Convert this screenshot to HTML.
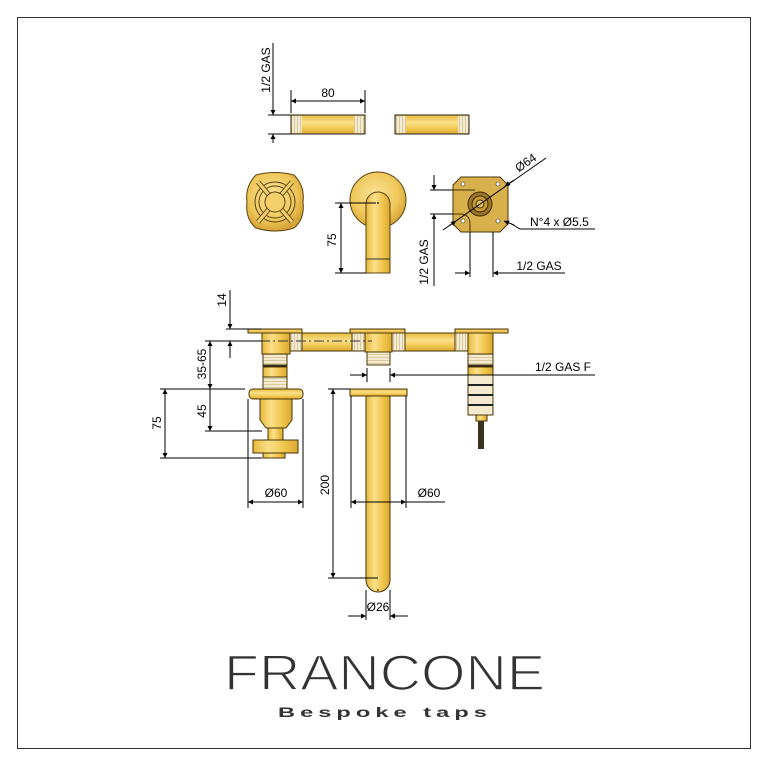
<!DOCTYPE html>
<html><head><meta charset="utf-8"><style>
html,body{margin:0;padding:0;background:#fff;}
svg{display:block;font-family:"Liberation Sans",sans-serif;}
</style></head><body>
<svg width="764" height="765" viewBox="0 0 764 765" xmlns="http://www.w3.org/2000/svg">
<defs>
<linearGradient id="gv" x1="0" y1="0" x2="1" y2="0">
<stop offset="0" stop-color="#e6b93a"/><stop offset="0.35" stop-color="#fbe08a"/><stop offset="0.7" stop-color="#f0c54c"/><stop offset="1" stop-color="#d9a730"/>
</linearGradient>
<linearGradient id="gh" x1="0" y1="0" x2="0" y2="1">
<stop offset="0" stop-color="#e6b93a"/><stop offset="0.4" stop-color="#fbe08a"/><stop offset="0.75" stop-color="#f0c54c"/><stop offset="1" stop-color="#d9a730"/>
</linearGradient>
<radialGradient id="gr" cx="0.45" cy="0.4" r="0.6">
<stop offset="0" stop-color="#fbe39a"/><stop offset="0.7" stop-color="#efc658"/><stop offset="1" stop-color="#d6a437"/>
</radialGradient>
<pattern id="thr" width="3" height="3" patternUnits="userSpaceOnUse"><rect width="3" height="3" fill="#f4ead0"/><rect width="1" height="3" fill="#d8c9a0"/></pattern>
<pattern id="thh" width="3" height="3" patternUnits="userSpaceOnUse"><rect width="3" height="3" fill="#f4ead0"/><rect width="3" height="1" fill="#d8c9a0"/></pattern>
<marker id="a" viewBox="0 0 10 10" refX="10" refY="5" markerWidth="9" markerHeight="5" orient="auto-start-reverse" markerUnits="userSpaceOnUse"><path d="M0,0 L10,5 L0,10z" fill="#000"/></marker>
</defs>
<rect x="17.5" y="17.5" width="733" height="731" fill="none" stroke="#333" stroke-width="1"/>

<g stroke="#000" stroke-width="1" fill="none">
<line x1="273" y1="43" x2="273" y2="115" marker-end="url(#a)"/>
<line x1="273" y1="143" x2="273" y2="134" marker-end="url(#a)"/>
<line x1="268" y1="115" x2="291" y2="115"/><line x1="268" y1="134" x2="291" y2="134"/>
<line x1="291" y1="90" x2="291" y2="113"/><line x1="365" y1="90" x2="365" y2="113"/>
<line x1="291" y1="101" x2="365" y2="101" marker-start="url(#a)" marker-end="url(#a)"/>
</g>
<text x="270" y="70" font-size="12" transform="rotate(-90 270 70)" text-anchor="middle">1/2 GAS</text>
<text x="328" y="97" font-size="12" text-anchor="middle">80</text>
<g stroke="#222" stroke-width="1">
<rect x="291" y="115" width="74" height="19" fill="url(#gh)"/>
<rect x="292" y="116" width="10" height="17" fill="url(#thr)" stroke="none"/><rect x="354" y="116" width="10" height="17" fill="url(#thr)" stroke="none"/>
<rect x="395" y="115" width="74" height="19" fill="url(#gh)"/>
<rect x="396" y="116" width="10" height="17" fill="url(#thr)" stroke="none"/><rect x="458" y="116" width="10" height="17" fill="url(#thr)" stroke="none"/>
</g>

<g stroke="#5a4310" stroke-width="1">
<path d="M256,175 Q275,170 294,175 Q305,186 303,202 Q305,219 294,228 Q275,234 256,228 Q245,219 247,202 Q245,186 256,175z" fill="url(#gr)"/>
<circle cx="275" cy="202" r="20" fill="none"/><circle cx="275" cy="202" r="16" fill="none"/>
<path d="M258,182 L292,222 M292,182 L258,222" stroke="#6b5015" stroke-width="5"/>
<path d="M258,182 L292,222 M292,182 L258,222" stroke="#f2cf6a" stroke-width="3"/>
<circle cx="275" cy="202" r="10" fill="#f3d06a"/>
</g>
<circle cx="378" cy="200" r="28" fill="url(#gr)" stroke="#5a4310"/>
<path d="M366,273 L366,204 A12,12 0 0 1 390,204 L390,273z" fill="url(#gv)" stroke="#5a4310"/>
<line x1="366" y1="259" x2="390" y2="259" stroke="#333"/>
<circle cx="378" cy="203" r="1" fill="#333"/>
<g stroke="#000" fill="none">
<line x1="335" y1="203" x2="376" y2="203"/><line x1="335" y1="273" x2="366" y2="273"/>
<line x1="341" y1="203" x2="341" y2="273" marker-start="url(#a)" marker-end="url(#a)"/>
</g>
<text x="336" y="240" font-size="12" transform="rotate(-90 336 240)" text-anchor="middle">75</text>
<path d="M461,177 L500,177 L508,185 L508,224 L500,232 L461,232 L453,224 L453,185z" fill="#d8b04c" stroke="#4a3508"/>
<path d="M453,190 L475,190 M453,214 L460,214 Q470,214 470,224 L470,232" stroke="#4a3508" fill="none"/>
<circle cx="480" cy="204" r="12" fill="#9b7424" stroke="#3d2b06"/>
<circle cx="480" cy="204" r="8" fill="#c99a35" stroke="#3d2b06"/>
<circle cx="480" cy="204" r="4" fill="#e7c260" stroke="#3d2b06"/>
<g fill="#fff" stroke="#333" stroke-width="0.6"><circle cx="463" cy="184" r="2"/><circle cx="498" cy="184" r="2"/><circle cx="463" cy="221" r="2"/><circle cx="498" cy="221" r="2"/></g>
<g stroke="#000" fill="none">
<line x1="430" y1="190" x2="453" y2="190"/><line x1="430" y1="214" x2="453" y2="214"/>
<line x1="434" y1="175" x2="434" y2="190" marker-end="url(#a)"/>
<line x1="434" y1="286" x2="434" y2="214" marker-end="url(#a)"/>
<line x1="443" y1="230" x2="546" y2="158"/>
<line x1="449" y1="226" x2="456" y2="221" marker-end="url(#a)"/>
<line x1="514" y1="180" x2="505" y2="186" marker-end="url(#a)"/>
<polyline points="595,229 520,229 510,223"/>
<line x1="514" y1="225" x2="504" y2="221" marker-end="url(#a)"/>
<line x1="470" y1="232" x2="470" y2="277"/><line x1="493" y1="232" x2="493" y2="277"/>
<line x1="455" y1="273" x2="470" y2="273" marker-end="url(#a)"/>
<line x1="565" y1="273" x2="493" y2="273" marker-end="url(#a)"/>
</g>
<text x="528" y="166" font-size="12" transform="rotate(-35 528 166)" text-anchor="middle">Ø64</text>
<text x="530" y="226" font-size="12">N°4 x Ø5.5</text>
<text x="539" y="270" font-size="12" text-anchor="middle">1/2 GAS</text>
<text x="428" y="262" font-size="12" transform="rotate(-90 428 262)" text-anchor="middle">1/2 GAS</text>

<g stroke="#4a3508" stroke-width="1">
<rect x="290" y="333" width="75" height="18" fill="url(#gh)"/>
<rect x="390" y="333" width="78" height="18" fill="url(#gh)"/>
<rect x="290" y="333" width="12" height="18" fill="url(#thr)"/><rect x="352" y="333" width="13" height="18" fill="url(#thr)"/>
<rect x="392" y="333" width="13" height="18" fill="url(#thr)"/><rect x="455" y="333" width="13" height="18" fill="url(#thr)"/>
<rect x="248" y="329" width="54" height="4" fill="#f0c85a"/>
<rect x="350" y="329" width="55" height="4" fill="#f0c85a"/>
<rect x="455" y="329" width="53" height="4" fill="#f0c85a"/>
<rect x="262" y="333" width="28" height="21" fill="url(#gv)"/>
<rect x="365" y="333" width="27" height="19" fill="url(#gv)"/>
<rect x="468" y="333" width="25" height="21" fill="url(#gv)"/>
<rect x="263" y="354" width="24" height="11" fill="url(#thh)"/>
<rect x="263" y="365" width="24" height="2" fill="#222"/>
<rect x="263" y="367" width="24" height="10" fill="url(#gv)"/>
<rect x="263" y="377" width="24" height="12" fill="url(#thh)"/>
<rect x="249" y="389" width="54" height="10" rx="4" fill="url(#gh)"/>
<path d="M260,399 L292,399 L292,420 L286,428 L266,428 L260,420z" fill="url(#gv)"/>
<rect x="268" y="428" width="15" height="12" fill="url(#gv)"/>
<rect x="253" y="440" width="45" height="13" fill="url(#gv)"/>
<rect x="263" y="453" width="22" height="5" fill="url(#gv)"/>
<rect x="367" y="352" width="23" height="13" fill="url(#thh)"/>
<rect x="350" y="389" width="57" height="7" fill="url(#gh)"/>
<path d="M366,396 L366,580 A12,12 0 0 0 390,580 L390,396z" fill="url(#gv)"/>
<rect x="468" y="354" width="25" height="11" fill="url(#thh)"/>
<rect x="468" y="365" width="25" height="2" fill="#222"/>
<rect x="468" y="367" width="25" height="8" fill="url(#gv)"/>
<rect x="468" y="375" width="25" height="40" fill="#f4ead0"/>
<rect x="476" y="415" width="11" height="6" fill="url(#gv)"/>
</g>
<g fill="#222"><rect x="468" y="384" width="25" height="2"/><rect x="468" y="394" width="25" height="2"/><rect x="468" y="404" width="25" height="2"/></g>
<rect x="478" y="421" width="6" height="28" fill="#3a3320"/>
<line x1="260" y1="341" x2="372" y2="341" stroke="#333" stroke-dasharray="10,3,2,3"/>
<circle cx="378" cy="590" r="0.8" fill="#000"/>

<g stroke="#000" fill="none">
<line x1="230" y1="290" x2="230" y2="329" marker-end="url(#a)"/>
<line x1="230" y1="358" x2="230" y2="341" marker-end="url(#a)"/>
<line x1="226" y1="329" x2="262" y2="329"/><line x1="205" y1="341" x2="262" y2="341"/>
<line x1="210" y1="341" x2="210" y2="389" marker-start="url(#a)" marker-end="url(#a)"/>
<line x1="205" y1="389" x2="245" y2="389"/><line x1="160" y1="389" x2="205" y2="389"/>
<line x1="210" y1="389" x2="210" y2="431" marker-end="url(#a)"/>
<line x1="205" y1="431" x2="262" y2="431"/>
<line x1="165" y1="389" x2="165" y2="458" marker-start="url(#a)" marker-end="url(#a)"/>
<line x1="160" y1="458" x2="262" y2="458"/>
<line x1="248" y1="399" x2="248" y2="508"/><line x1="303" y1="399" x2="303" y2="508"/>
<line x1="248" y1="502" x2="303" y2="502" marker-start="url(#a)" marker-end="url(#a)"/>
<line x1="328" y1="389" x2="350" y2="389"/><line x1="328" y1="578" x2="378" y2="578"/>
<line x1="333" y1="389" x2="333" y2="578" marker-start="url(#a)" marker-end="url(#a)"/>
<line x1="351" y1="396" x2="351" y2="508"/><line x1="406" y1="396" x2="406" y2="508"/>
<line x1="351" y1="502" x2="406" y2="502" marker-start="url(#a)" marker-end="url(#a)"/>
<line x1="406" y1="502" x2="445" y2="502"/>
<line x1="366" y1="590" x2="366" y2="620"/><line x1="390" y1="590" x2="390" y2="620"/>
<line x1="348" y1="616" x2="366" y2="616" marker-end="url(#a)"/>
<line x1="408" y1="616" x2="390" y2="616" marker-end="url(#a)"/>
<line x1="367" y1="368" x2="367" y2="382"/><line x1="390" y1="368" x2="390" y2="382"/>
<line x1="350" y1="375" x2="367" y2="375" marker-end="url(#a)"/>
<line x1="595" y1="375" x2="390" y2="375" marker-end="url(#a)"/>
</g>
<g font-size="12" text-anchor="middle">
<text x="226" y="300" transform="rotate(-90 226 300)">14</text>
<text x="206" y="364" transform="rotate(-90 206 364)">35-65</text>
<text x="206" y="411" transform="rotate(-90 206 411)">45</text>
<text x="161" y="423" transform="rotate(-90 161 423)">75</text>
<text x="276" y="497">Ø60</text>
<text x="429" y="497">Ø60</text>
<text x="329" y="485" transform="rotate(-90 329 485)">200</text>
<text x="378" y="611">Ø26</text>
<text x="563" y="371">1/2 GAS F</text>
</g>

<text x="224" y="690" font-size="50" fill="#333" textLength="321" lengthAdjust="spacingAndGlyphs" stroke="#fff" stroke-width="1.5">FRANCONE</text>
<text x="278" y="717" font-size="14" font-weight="bold" fill="#333" letter-spacing="3" textLength="214" lengthAdjust="spacingAndGlyphs">Bespoke taps</text>
</svg>
</body></html>
